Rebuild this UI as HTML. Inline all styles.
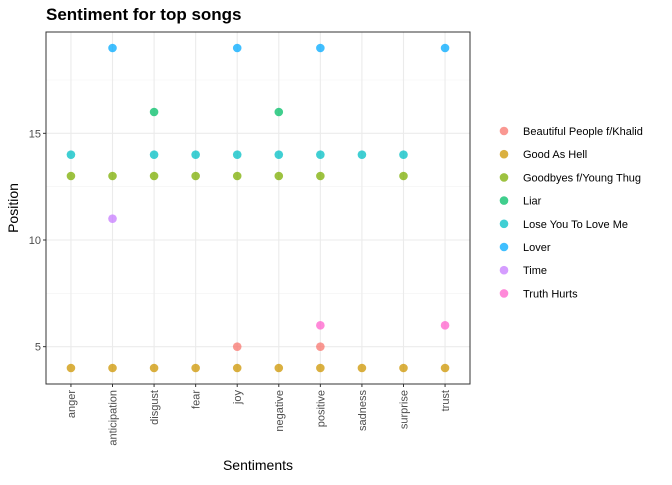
<!DOCTYPE html>
<html><head><meta charset="utf-8"><style>
body{margin:0;background:#fff;font-family:"Liberation Sans",sans-serif;}
svg text{font-family:"Liberation Sans",sans-serif;}
</style></head><body>
<svg id="chart" width="672" height="480" xmlns="http://www.w3.org/2000/svg">
<text x="46" y="20" font-size="17" font-weight="bold" fill="#000">Sentiment for top songs</text>
<g id="grid"></g><g id="points"></g><g id="axes"></g><g id="legend"></g>
<text x="258" y="470" font-size="14" text-anchor="middle" fill="#000">Sentiments</text>
<text transform="translate(18,208) rotate(-90)" font-size="14" text-anchor="middle" fill="#000">Position</text>
</svg>
<script>
const categories=["anger","anticipation","disgust","fear","joy","negative","positive","sadness","surprise","trust"];
const songs=["Beautiful People f/Khalid","Good As Hell","Goodbyes f/Young Thug","Liar","Lose You To Love Me","Lover","Time","Truth Hurts"];
const colors=["#F8766D","#CD9600","#7CAE00","#00BE67","#00BFC4","#00A9FF","#C77CFF","#FF61CC"];
const ptCategory=["anger","anger","anger","anticipation","anticipation","anticipation","anticipation","disgust","disgust","disgust","disgust","fear","fear","fear","joy","joy","joy","joy","joy","negative","negative","negative","negative","positive","positive","positive","positive","positive","positive","sadness","sadness","surprise","surprise","surprise","trust","trust","trust"];
const ptSong=[4,2,1,5,2,6,1,3,4,2,1,4,2,1,5,4,2,0,1,3,4,2,1,5,4,2,7,0,1,4,1,4,2,1,5,7,1];
const ptValue=[14,13,4,19,13,11,4,16,14,13,4,14,13,4,19,14,13,5,4,16,14,13,4,19,14,13,6,5,4,14,4,14,13,4,19,6,4];
const yTicks=[5,10,15];
const yMinor=[7.5,12.5,17.5];
const L=46,R=470,T=32,B=384,yMin=3.25,yMax=19.75;
const NS="http://www.w3.org/2000/svg";
const xs=c=>L+(R-L)*(categories.indexOf(c)+0.6)/(categories.length+0.2);
const ys=v=>B-(v-yMin)/(yMax-yMin)*(B-T);
function mk(tag,attrs,parent){const e=document.createElementNS(NS,tag);for(const k in attrs)e.setAttribute(k,attrs[k]);document.getElementById(parent).appendChild(e);return e;}
yMinor.forEach(v=>{const l=mk('line',{x1:L,x2:R,y1:ys(v),y2:ys(v),stroke:'#f2f2f2','stroke-width':0.6},'grid');

});
yTicks.forEach(v=>{const l=mk('line',{x1:L,x2:R,y1:ys(v),y2:ys(v),stroke:'#ebebeb','stroke-width':1.1},'grid');


const t=mk('text',{x:L-5,y:ys(v)+4,'font-size':11,'text-anchor':'end',fill:'#4d4d4d'},'axes');t.textContent=v;


mk('line',{x1:L-3,x2:L,y1:ys(v),y2:ys(v),stroke:'#333'},'axes');});
categories.forEach(c=>{const x=xs(c);const l=mk('line',{x1:x,x2:x,y1:T,y2:B,stroke:'#ebebeb','stroke-width':1.1},'grid');


mk('line',{x1:x,x2:x,y1:B,y2:B+3,stroke:'#333'},'axes');
const t=mk('text',{transform:`translate(${x+4},${B+6}) rotate(-90)`,'font-size':11,'text-anchor':'end',fill:'#4d4d4d'},'axes');t.textContent=c;

});
const border=mk('rect',{x:L,y:T,width:R-L,height:B-T,fill:'none',stroke:'#333','stroke-width':1},'axes');


ptValue.forEach((v,i)=>{const p=mk('circle',{cx:xs(ptCategory[i]),cy:ys(v),r:4.3,fill:colors[ptSong[i]],'fill-opacity':0.75},'points');

});
songs.forEach((s,i)=>{const y=131+i*23.2;
const c=mk('circle',{cx:504,cy:y,r:4.3,fill:colors[i],'fill-opacity':0.75},'legend');


const t=mk('text',{x:523,y:y+4,'font-size':11,fill:'#000'},'legend');t.textContent=s;

});
</script>
</body></html>
